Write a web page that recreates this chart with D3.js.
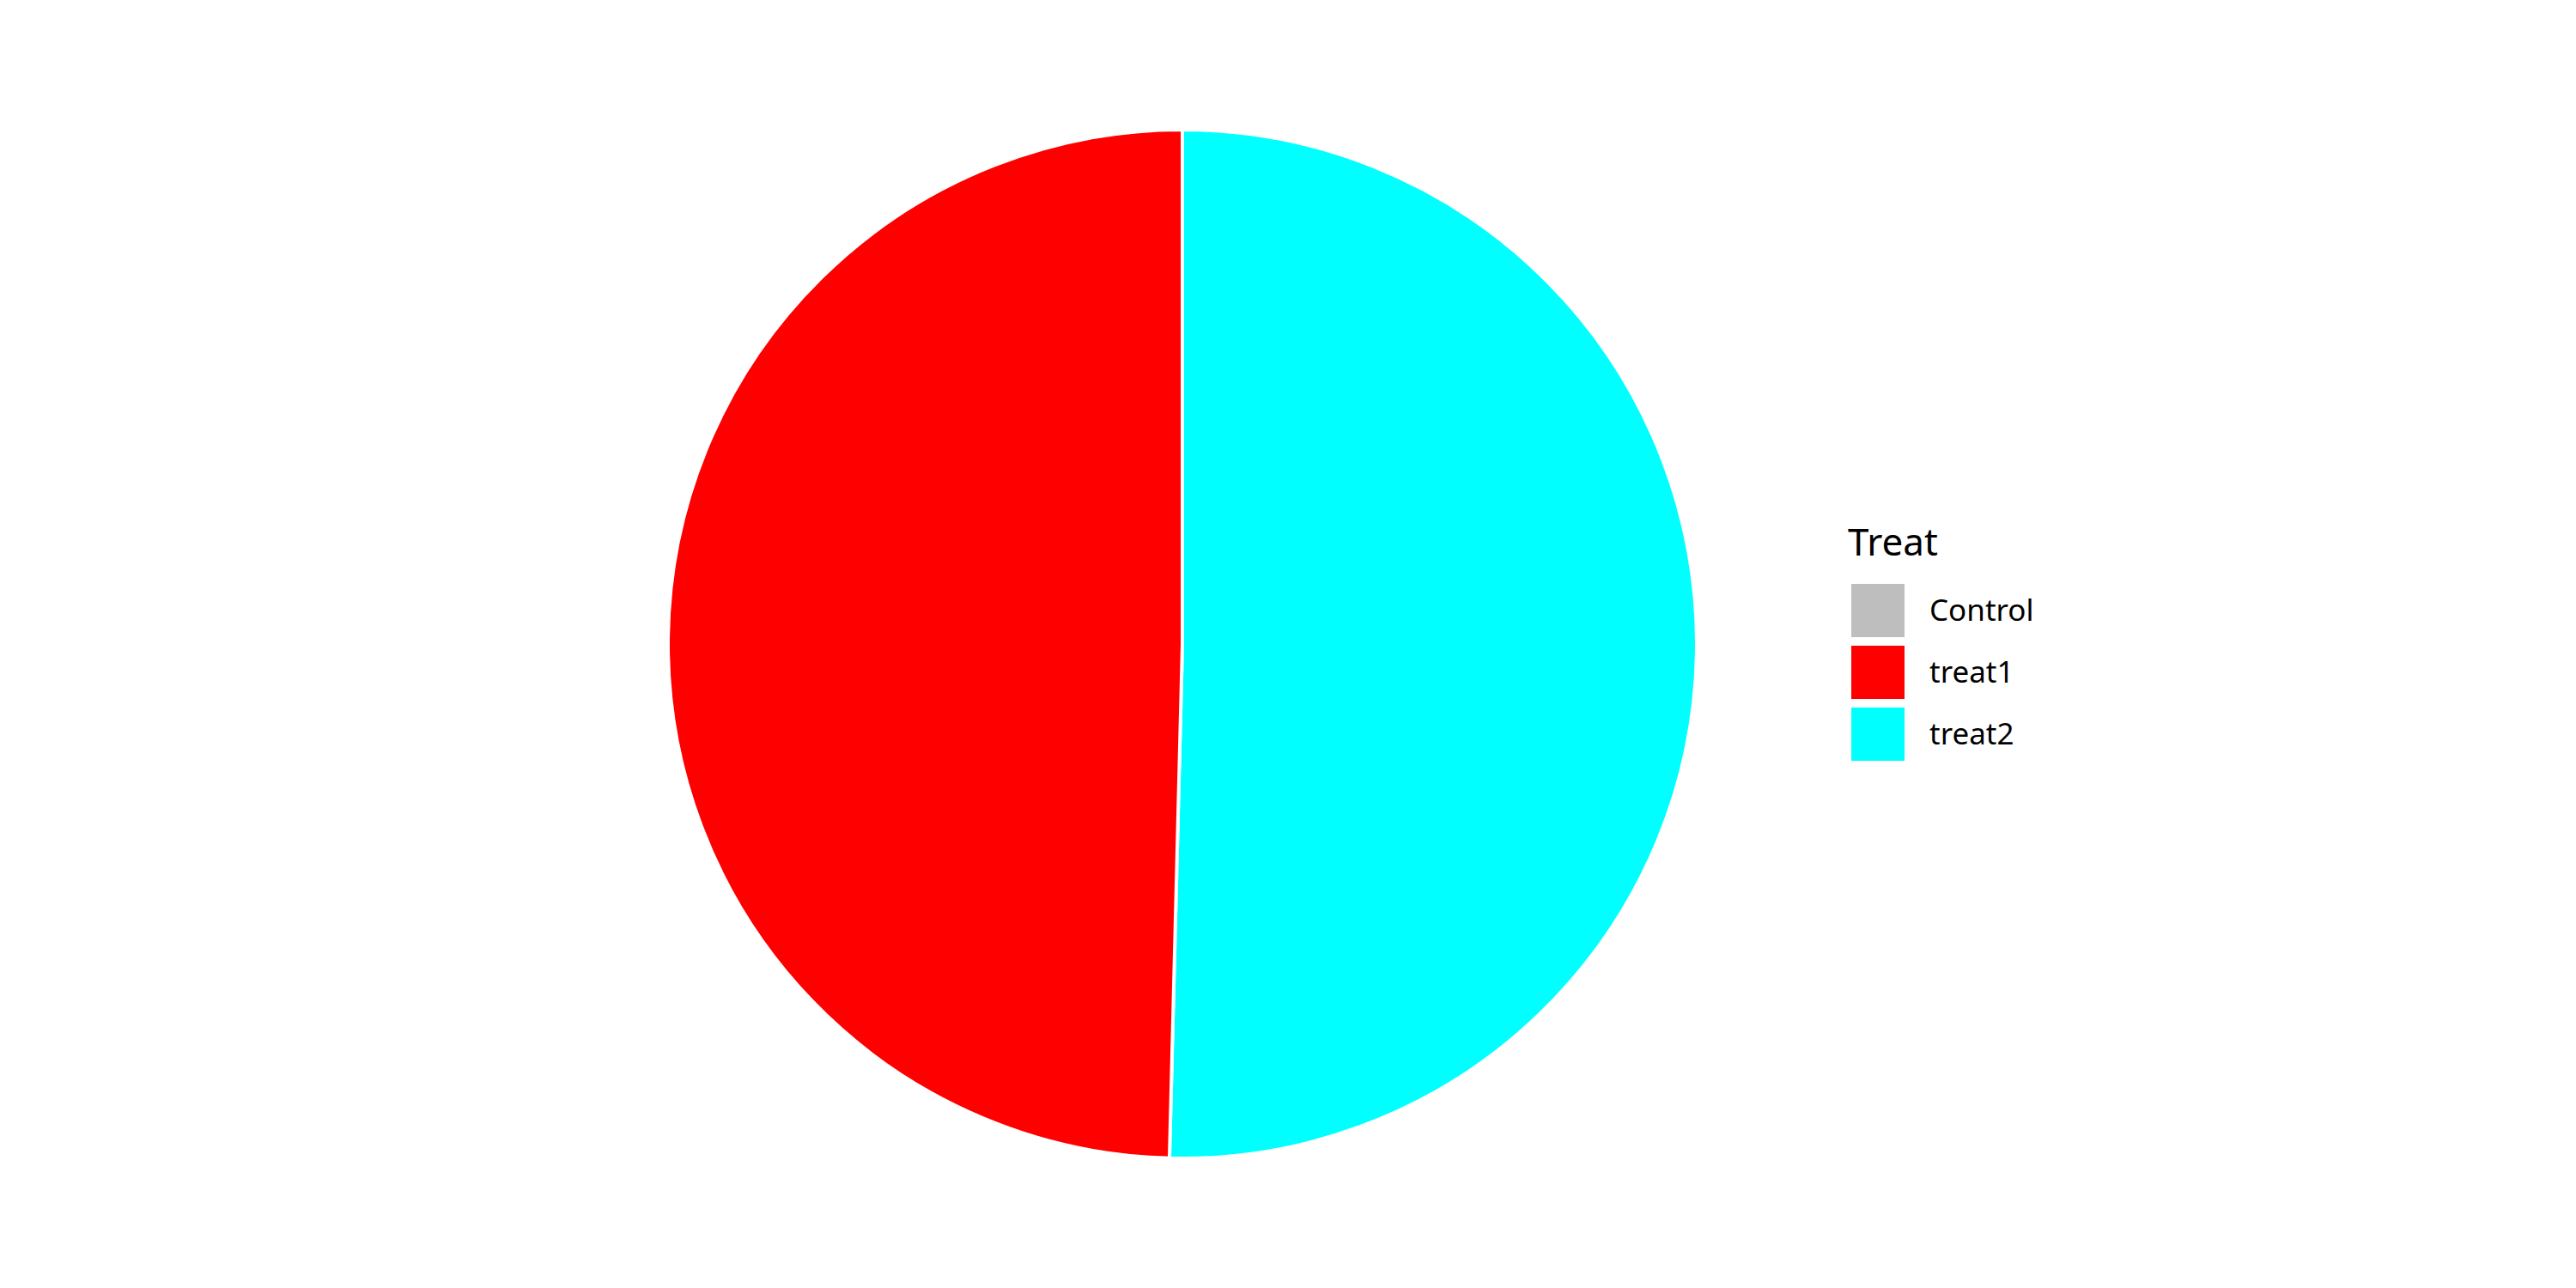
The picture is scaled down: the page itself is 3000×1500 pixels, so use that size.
<!DOCTYPE html>
<html>
<head>
<meta charset="utf-8">
<script src="https://cdn.jsdelivr.net/npm/d3@7"></script>
<style>
  body { margin: 0; background: #fff; }
  text { font-family: "Noto Sans", "Open Sans", sans-serif; fill: #000; }
</style>
</head>
<body>
<svg id="chart" width="3000" height="1500"></svg>
<script>
// data
const categories = ["Control", "treat1", "treat2"];
const counts = [0, 62, 63];
const colors = ["#BEBEBE", "#FF0000", "#00FFFF"];
const legendTitle = "Treat";

const width = 3000, height = 1500;
const cx = 1377, cy = 750, radius = 599;

const svg = d3.select('#chart');

const color = d3.scaleOrdinal()
  .domain(categories)
  .range(colors);

// ggplot stacks last level first, drawn clockwise from 12 o'clock
const pie = d3.pie()
  .value(d => d.n)
  .sort(null);

const pairs = categories.map((c, i) => ({cat: c, n: counts[i]})).reverse();

const arc = d3.arc()
  .innerRadius(0)
  .outerRadius(radius);

const chart = svg.append('g')
  .attr('transform', `translate(${cx}, ${cy})`);

chart.selectAll('path')
  .data(pie(pairs).filter(d => d.data.n > 0))
  .enter()
  .append('path')
  .attr('d', arc)
  .attr('fill', d => color(d.data.cat))
  .attr('stroke', '#fff')
  .attr('stroke-width', 4);

// legend
const legend = svg.append('g')
  .attr('transform', 'translate(2152, 0)');

legend.append('text')
  .attr('x', 0)
  .attr('y', 647)
  .attr('font-size', 44)
  .text(legendTitle);

const keyY = d3.scaleBand()
  .domain(categories)
  .range([675, 891])
  .paddingInner(0);

const items = legend.selectAll('.item')
  .data(categories)
  .enter()
  .append('g')
  .attr('class', 'item')
  .attr('transform', d => `translate(0, ${keyY(d)})`);

items.append('rect')
  .attr('x', 4)
  .attr('y', 5)
  .attr('width', 62)
  .attr('height', 62)
  .attr('fill', d => color(d));

items.append('text')
  .attr('x', 95)
  .attr('y', 36)
  .attr('dy', '0.35em')
  .attr('font-size', 35)
  .text(d => d);
</script>
</body>
</html>
